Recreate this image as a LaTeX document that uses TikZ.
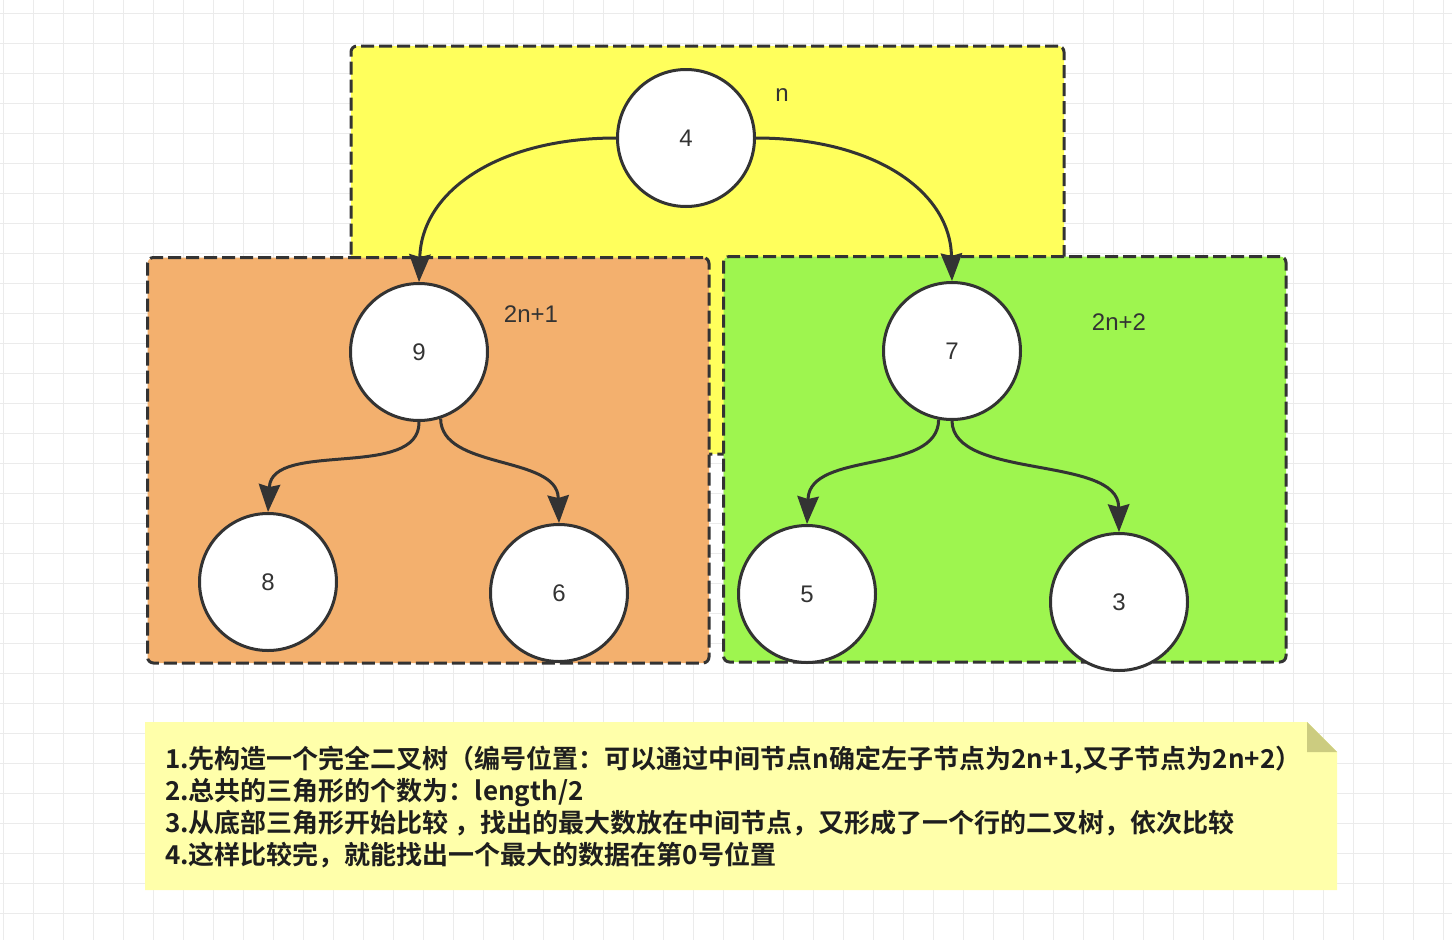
\documentclass[tikz,border=0pt]{standalone}
\usepackage{fontspec}
\setmainfont{Liberation Sans}
\newfontfamily\cjk{Noto Sans CJK SC}[BoldFont={Noto Sans CJK SC Bold}]
\usetikzlibrary{arrows.meta}
\definecolor{gridc}{HTML}{EBEBEB}
\definecolor{strokec}{HTML}{333333}
\definecolor{yellowc}{HTML}{FFFF5C}
\definecolor{orangec}{HTML}{F3B06E}
\definecolor{greenc}{HTML}{9EF54F}
\definecolor{notec}{HTML}{FFFFAA}
\definecolor{foldc}{HTML}{CCCC80}
\definecolor{textc}{HTML}{1E1E1E}
\tikzset{
  zone/.style={draw=strokec, line width=3pt, dash pattern=on 13pt off 5pt, rounded corners=6pt, inner sep=0pt},
  tnode/.style={circle, draw=strokec, fill=white, line width=3pt, minimum size=137pt, inner sep=0pt, font=\fontsize{24pt}{28pt}\selectfont, text=strokec},
  lbl/.style={font=\fontsize{24pt}{28pt}\selectfont, text=strokec, inner sep=0pt},
  conn/.style={draw=strokec, line width=3pt, -{Stealth[length=28pt,width=22pt,inset=3pt,line width=0pt]}},
}
\begin{document}
\begin{tikzpicture}[x=1pt,y=-1pt]
\useasboundingbox (0,0) rectangle (1452,940);
\fill[white] (0,0) rectangle (1452,940);
\foreach \x in {3,33,...,1443} \draw[gridc, line width=1pt] (\x,0) -- (\x,940);
\foreach \y in {13,43,...,933} \draw[gridc, line width=1pt] (0,\y) -- (1452,\y);

% zones
\node[zone, fill=yellowc, minimum width=713pt, minimum height=408pt] (zy) at (707.5,250) {};
\node[zone, fill=orangec, minimum width=561.5pt, minimum height=405.5pt] (zo) at (428.25,460.25) {};
\node[zone, fill=greenc, minimum width=562.5pt, minimum height=405.5pt] (zg) at (1004.75,459.25) {};

% tree nodes
\node[tnode] (n4) at (686,138) {4};
\node[tnode] (n9) at (419,352) {9};
\node[tnode] (n7) at (952,351) {7};
\node[tnode] (n8) at (268,582) {8};
\node[tnode] (n6) at (559,593) {6};
\node[tnode] (n5) at (807,594) {5};
\node[tnode] (n3) at (1119,602) {3};

% labels
\node[lbl] (ln) at (782,95) {n};
\node[lbl] (l1) at (531,314) {2n+1};
\node[lbl] (l2) at (1119,322) {2n+2};

% edges
\draw[conn] (n4.west) .. controls (500,138) and (422,190) .. (n9.north);
\draw[conn] (n4.east) .. controls (872,138) and (950,190) .. (n7.north);
\draw[conn] (n9.south) .. controls (420,480) and (272,440) .. (n8.north);
\draw[conn] (n9.-72) .. controls (441,470) and (557,455) .. (n6.north);
\draw[conn] (n7.-101) .. controls (938,475) and (810,450) .. (n5.north);
\draw[conn] (n7.south) .. controls (953,480) and (1118,455) .. (n3.north);

% note
\fill[notec] (145,722) -- (1307,722) -- (1337,752) -- (1337,890) -- (145,890) -- cycle;
\fill[foldc] (1307,722) -- (1307,752) -- (1337,752) -- cycle;
\node[anchor=west, align=left, inner sep=0pt, text=textc, font=\cjk\bfseries\fontsize{26pt}{32pt}\selectfont] (note) at (165,807)
{1.先构造一个完全二叉树（编号位置：可以通过中间节点n确定左子节点为2n+1,又子节点为2n+2）\\
2.总共的三角形的个数为：length/2\\
3.从底部三角形开始比较 ，找出的最大数放在中间节点，又形成了一个行的二叉树，依次比较\\
4.这样比较完，就能找出一个最大的数据在第0号位置};
\end{tikzpicture}
\end{document}
